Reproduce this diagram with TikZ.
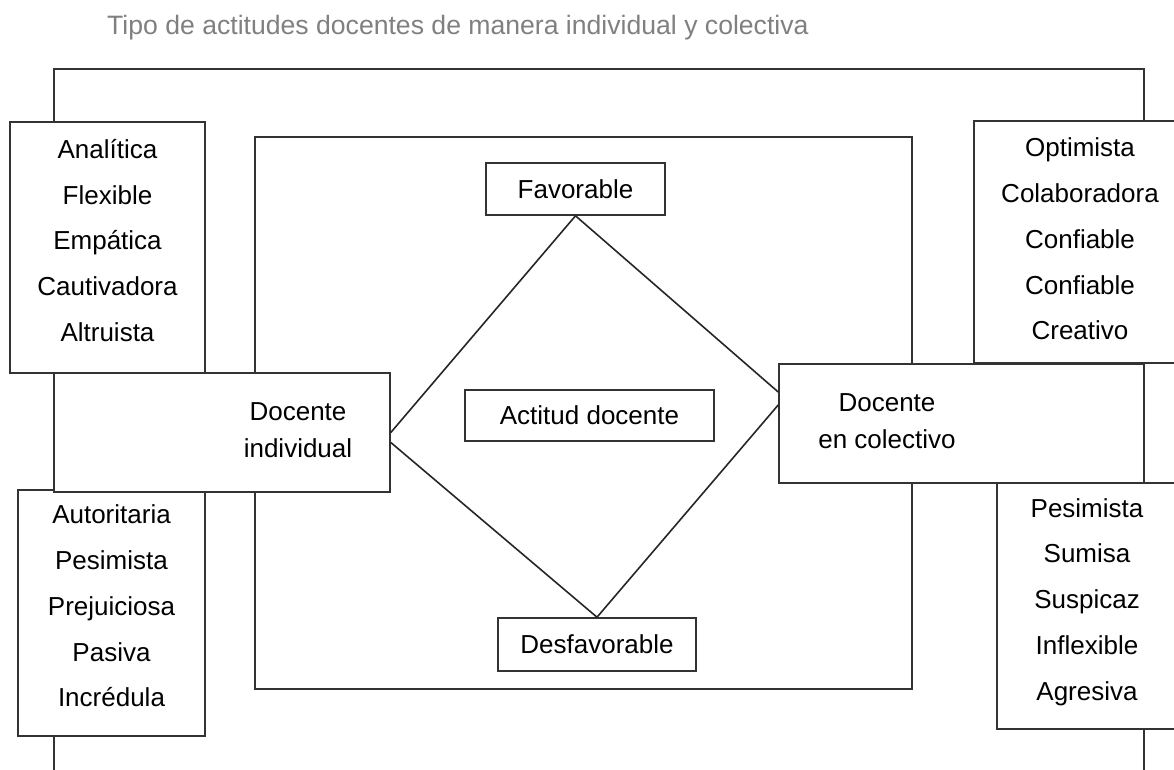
\documentclass[tikz,border=0pt]{standalone}
\usepackage{fontspec}
\setmainfont{Liberation Sans}
\usepackage{tikz}
\usetikzlibrary{calc}

\begin{document}
\begin{tikzpicture}[
    x=1pt, y=-1pt,
    frame/.style={draw=black!80, line width=1.6pt},
    box/.style={rectangle, draw=black!80, line width=1.6pt, fill=white, inner sep=0pt},
    tagbox/.style={box, font=\fontsize{26}{30}\selectfont},
    listtext/.style={align=center, inner sep=0pt, font=\fontsize{26}{45.75}\selectfont},
    sidetext/.style={align=center, inner sep=0pt, font=\fontsize{26}{37}\selectfont},
    line/.style={draw=black!85, line width=1.6pt}
]
\useasboundingbox (0,0) rectangle (1174,770);

% title
\node[anchor=base west, inner sep=0pt, text=black!50, font=\fontsize{26.6}{30}\selectfont] (title) at (107,35) {Tipo de actitudes docentes de manera individual y colectiva};

% frame and panel
\draw[frame] (54,790) -- (54,69) -- (1144,69) -- (1144,790);
\draw[frame, line width=2.6pt] (255,137) rectangle (912,689);

% attitude lists
\node[box, minimum width=195pt, minimum height=251pt] (posind) at (107.5,247.5) {};
\node[listtext] (posindlbl) at (107.5,240.5) {Analítica\\Flexible\\Empática\\Cautivadora\\Altruista};
\node[box, minimum width=187pt, minimum height=246pt] (negind) at (111.5,613) {};
\node[listtext] (negindlbl) at (111.5,606) {Autoritaria\\Pesimista\\Prejuiciosa\\Pasiva\\Incrédula};
\node[box, minimum width=212pt, minimum height=242pt] (poscol) at (1080,242) {};
\node[listtext] (poscollbl) at (1080,239) {Optimista\\Colaboradora\\Confiable\\Confiable\\Creativo};
\node[box, minimum width=180pt, minimum height=246pt] (negcol) at (1087,606) {};
\node[listtext] (negcollbl) at (1087,602) {Pesimista\\Sumisa\\Suspicaz\\Inflexible\\Agresiva};

% teacher boxes
\node[box, minimum width=336pt, minimum height=119pt] (indiv) at (222,432.5) {};
\node[sidetext] (indivlbl) at (298,430) {Docente\\individual};
\node[box, minimum width=365pt, minimum height=119pt] (colect) at (961.5,423.5) {};
\node[sidetext] (colectlbl) at (887,421) {Docente\\en colectivo};

% attitude poles
\node[tagbox, minimum width=179pt, minimum height=52pt] (fav) at (575.5,189) {Favorable};
\node[tagbox, minimum width=198pt, minimum height=53pt] (desf) at (597,644.5) {Desfavorable};
\node[tagbox, minimum width=249pt, minimum height=51pt] (actitud) at (589.5,415.5) {Actitud docente};

% diamond
\draw[line] (fav.south) -- (indiv.east);
\draw[line] ([yshift=-10pt]indiv.east) -- (desf.north);
\draw[line] (desf.north) -- ([yshift=18.5pt]colect.west);
\draw[line] ([yshift=31.5pt]colect.west) -- (fav.south);

\end{tikzpicture}
\end{document}
